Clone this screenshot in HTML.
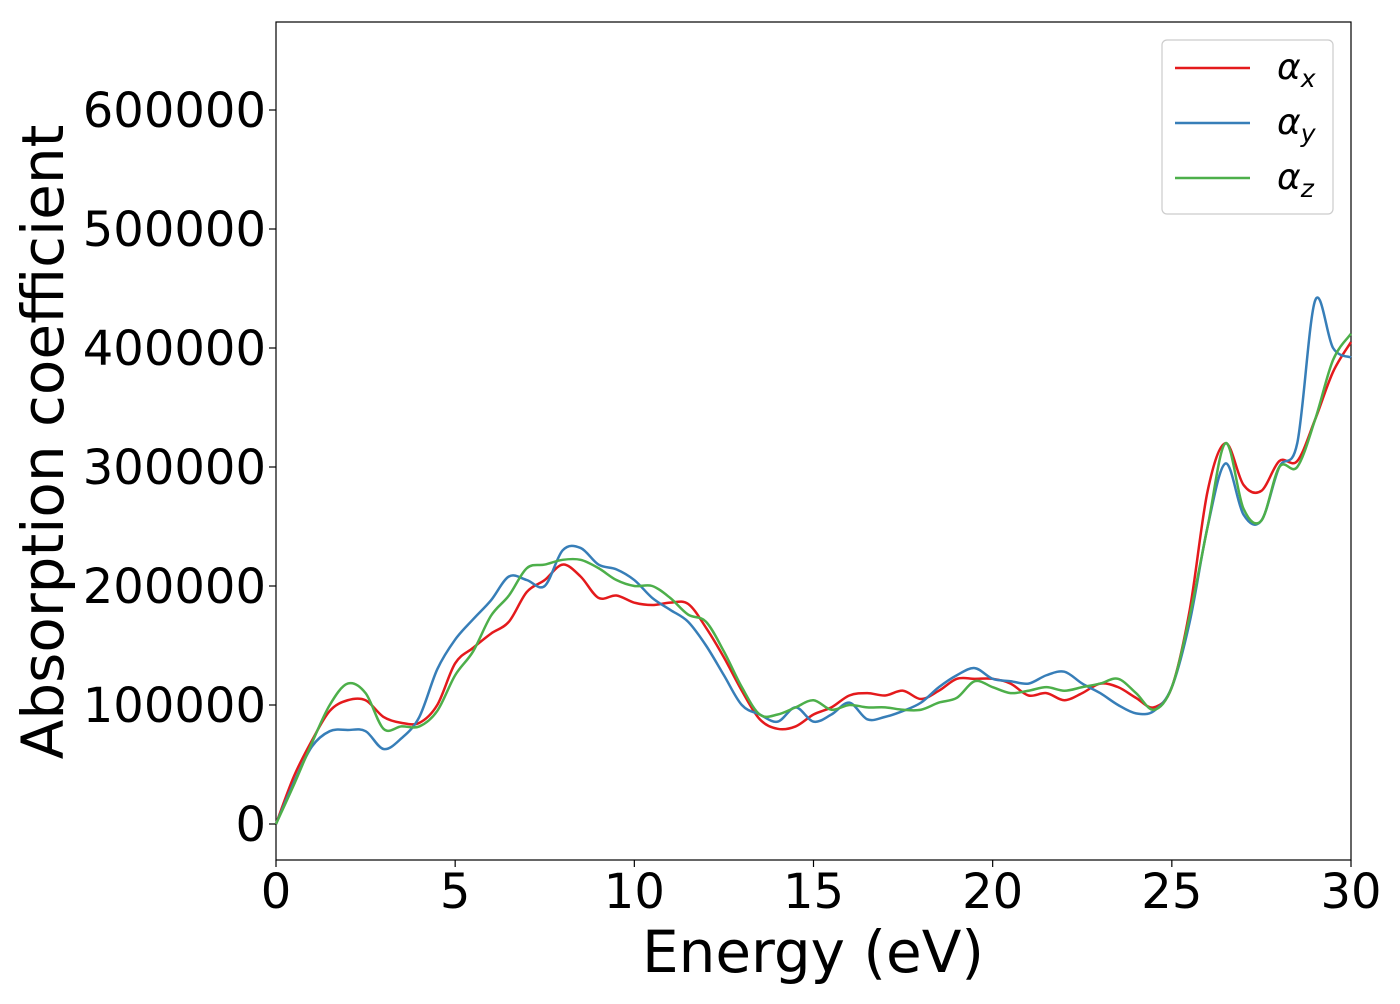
<!DOCTYPE html>
<html><head><meta charset="utf-8"><style>
body{margin:0;background:#fff;font-family:"DejaVu Sans","Liberation Sans",sans-serif}
</style></head><body>
<svg width="1400" height="1000" xmlns="http://www.w3.org/2000/svg" font-family="DejaVu Sans, Liberation Sans, sans-serif">
<g id="root"></g>
</svg>
<script>
const energies=[];for(let i=0;i<=60;i++)energies.push(i*0.5);
const alphaX=[0,40,70,95,104,104,90,85,85,100,135,148,160,170,195,205,218,208,190,192,186,184,186,185,165,140,112,88,80,82,92,98,108,110,108,112,105,112,122,122,122,118,108,110,104,110,118,115,106,98,115,180,280,320,285,280,305,305,340,380,405];
const alphaY=[0,35,65,78,79,78,63,72,90,130,155,172,188,208,205,200,230,232,218,214,205,190,180,170,150,125,100,92,86,98,86,92,102,88,90,95,102,115,125,131,122,120,118,125,128,118,110,100,93,95,115,170,250,303,260,255,300,320,440,400,392];
const alphaZ=[0,33,68,100,118,110,80,82,82,95,125,145,175,192,215,218,222,222,215,205,200,200,190,176,170,145,115,92,92,98,104,96,100,98,98,96,96,102,106,120,115,110,112,115,112,115,118,122,110,96,115,175,250,320,265,255,300,300,340,390,412];
const xTicks=[0,5,10,15,20,25,30];
const yTicks=[0,100000,200000,300000,400000,500000,600000];
const L=276,R=1351,T=22,B=860;
const xs=v=>L+(v-0)/30*(R-L);
const ys=v=>824-v*714/600000;
const NS='http://www.w3.org/2000/svg';
const root=document.getElementById('root');
function mk(t,a,p){const e=document.createElementNS(NS,t);for(const k in a)e.setAttribute(k,a[k]);(p||root).appendChild(e);return e;}
const frame=mk('rect',{x:L,y:T,width:R-L,height:B-T,fill:'none',stroke:'#000','stroke-width':1.2});


xTicks.forEach(v=>{
 const l=mk('line',{x1:xs(v),x2:xs(v),y1:B,y2:B+7,stroke:'#000','stroke-width':1.2});
 
 
 const t=mk('text',{x:xs(v),y:908,'font-size':48,'text-anchor':'middle'});t.textContent=v;
 
 
});
yTicks.forEach(v=>{
 const l=mk('line',{x1:L-7,x2:L,y1:ys(v),y2:ys(v),stroke:'#000','stroke-width':1.2});
 
 
 const t=mk('text',{x:L-10,y:ys(v)+17,'font-size':48,'text-anchor':'end'});t.textContent=v;
 
 
});
const xt=mk('text',{x:813,y:972,'font-size':58,'text-anchor':'middle'});xt.textContent='Energy (eV)';


const yt=mk('text',{x:0,y:0,'font-size':58,'text-anchor':'middle',transform:'translate(63,442) rotate(-90)'});yt.textContent='Absorption coefficient';


function path(vals){
 const p=vals.map((v,i)=>[xs(energies[i]),ys(v*1000)]);
 let d='M'+p[0][0]+','+p[0][1];
 for(let i=0;i<p.length-1;i++){
  const p0=p[Math.max(0,i-1)],p1=p[i],p2=p[i+1],p3=p[Math.min(p.length-1,i+2)];
  const c1=[p1[0]+(p2[0]-p0[0])/6,p1[1]+(p2[1]-p0[1])/6];
  const c2=[p2[0]-(p3[0]-p1[0])/6,p2[1]-(p3[1]-p1[1])/6];
  d+=`C${c1[0]},${c1[1]} ${c2[0]},${c2[1]} ${p2[0]},${p2[1]}`;
 }
 return d;
}
const series=[[alphaX,'#e41a1c','x','series-alpha-x'],[alphaY,'#377eb8','y','series-alpha-y'],[alphaZ,'#4daf4a','z','series-alpha-z']];
series.forEach(s=>{
 const e=mk('path',{d:path(s[0]),fill:'none',stroke:s[1],'stroke-width':2.5});
 
 
});
const lg=mk('g',{});


mk('rect',{x:1162,y:40,width:171,height:174,rx:5,fill:'#fff',stroke:'#ccc','stroke-width':1.2},lg);
series.forEach((s,i)=>{
 const y=68+i*55;
 const ln=mk('line',{x1:1175,x2:1250,y1:y,y2:y,stroke:s[1],'stroke-width':2.5},lg);
 
 
 const t=mk('text',{x:1277,y:y+11,'font-size':36,'font-style':'italic'},lg);
 
 
 t.textContent='α';
 const sub=mk('tspan',{'font-size':25,dy:8},t);sub.textContent=s[2];
});
</script>
</body></html>
